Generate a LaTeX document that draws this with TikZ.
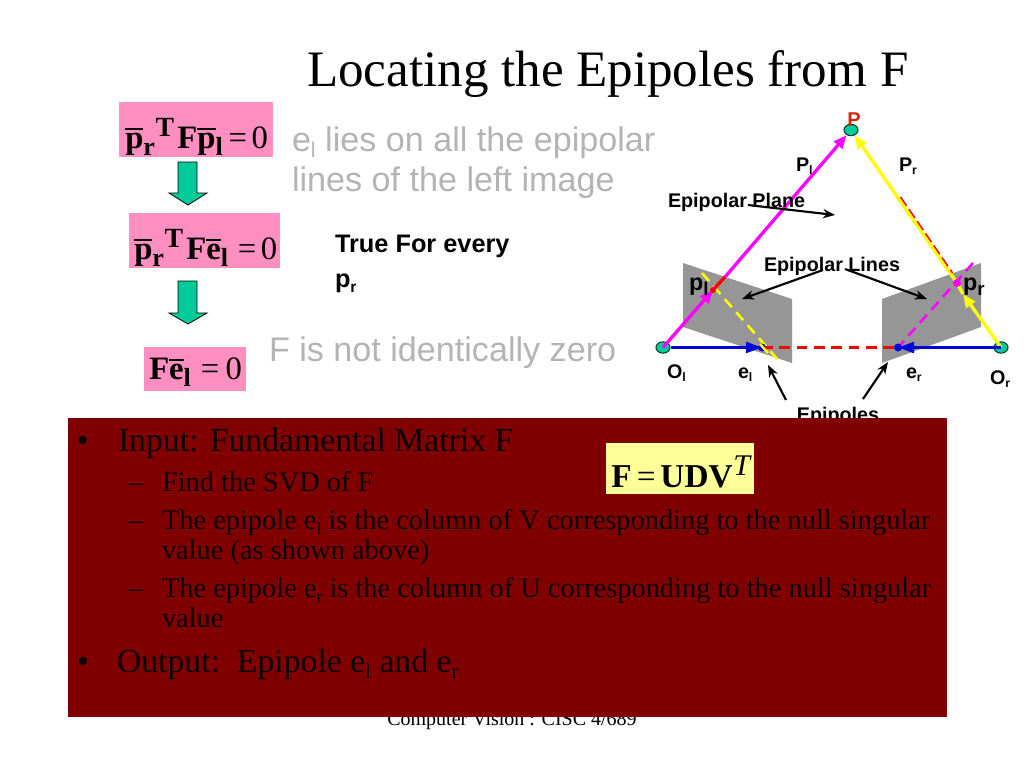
\documentclass[tikz,border=0pt]{standalone}
\usepackage{fontspec}
\setmainfont{Liberation Serif}
\newfontfamily\arialf{Liberation Sans}
\usetikzlibrary{arrows.meta,shapes.geometric}
\newcommand\subt[1]{\raisebox{-.2em}{\scalebox{.62}{#1}}}
\newcommand\subb[1]{\raisebox{-.22em}{\scalebox{.8}{#1}}}
\newcommand\ovl[1]{\vbox{\hrule height .045em \kern .09em \hbox{#1}}}
\newcommand\px[1]{\fontsize{#1}{#1}\selectfont}
\newcommand\supT{\raisebox{.36em}{\kern.02em\scalebox{.85}{T}\kern.1em}}
\definecolor{pinkbox}{HTML}{FF8FC0}
\definecolor{greenfill}{HTML}{00CC99}
\definecolor{darkred}{HTML}{800000}
\definecolor{paleyellow}{HTML}{FFFF99}
\definecolor{inkdark}{HTML}{0D0000}
\definecolor{greytext}{HTML}{B4B4B4}
\definecolor{planegrey}{HTML}{969696}
\definecolor{magline}{HTML}{FF00FF}
\definecolor{yelline}{HTML}{FFFF00}
\definecolor{plabel}{HTML}{D42A10}
\definecolor{blueline}{HTML}{0000DD}
\tikzset{
 txt/.style={inner sep=0pt,outer sep=0pt,anchor=base west,align=left},
 lab/.style={txt,font=\arialf\bfseries\px{14.8}},
 lgrey/.style={txt,font=\arialf\px{25.6},text=greytext},
 body/.style={txt,font=\px{25.3},text=inkdark},
 bodyb/.style={txt,font=\px{21.3},text=inkdark},
 pinkb/.style={fill=pinkbox,draw=none},
 formula/.style={inner sep=0pt,anchor=base west,font=\bfseries\px{24.5}},
 downarrow/.style={fill=greenfill,draw=black,line width=.6pt,line join=miter},
 dotnode/.style={ellipse,fill=greenfill,draw=black!70!greenfill,line width=.8pt,minimum width=10.5pt,minimum height=8.5pt,inner sep=0pt},
 blk/.style={draw=black,line width=1.6pt,-{Stealth[length=9pt,width=7pt]}},
 mag/.style={draw=magline,line width=2.5pt},
 yel/.style={draw=yelline,line width=2.5pt},
 blu/.style={draw=blueline,line width=2.3pt},
 dsh/.style={line width=1.9pt,dash pattern=on 8pt off 5pt},
 tipm/.style={-{Triangle[length=10pt,width=8pt,fill=magline]}},
 tipy/.style={-{Triangle[length=10pt,width=8pt,fill=yelline]}},
 tipb/.style={-{Triangle[length=12pt,width=8pt,fill=blueline]}},
}
\begin{document}
\begin{tikzpicture}[x=0.75pt,y=-0.75pt]
\path[use as bounding box,fill=white] (0,0) rectangle (1024,768);
% title
\node[txt,font=\px{38.3}] (title) at (307,86) {Locating the Epipoles from F};
% pink boxes
\fill[pinkb] (119,102) rectangle (273,157);
\fill[pinkb] (129,213) rectangle (280,268);
\fill[pinkb] (144,347) rectangle (246,391);
\node[formula] (f1) at (125,148) {\ovl{p}\subb{r}\supT F\ovl{p}\subb{l}\kern.18em\mdseries=\kern.14em 0};
\node[formula] (f2) at (134,259) {\ovl{p}\subb{r}\supT F\ovl{e}\subb{l}\kern.3em\mdseries=\kern.14em 0};
\node[formula] (f3) at (149,379) {F\ovl{e}\subb{l}\kern.3em\mdseries=\kern.2em 0};
% green arrows
\draw[downarrow] (178,162) -- (197,162) -- (197,193) -- (207,193) -- (188,205) -- (169,193) -- (178,193) -- cycle;
\draw[downarrow] (178,281) -- (197,281) -- (197,313) -- (207,313) -- (188,324) -- (169,313) -- (178,313) -- cycle;
% grey text
\node[lgrey] (g1) at (292,151) {e\subt{l} lies on all the epipolar};
\node[lgrey] (g2) at (292,191) {lines of the left image};
\node[lgrey] (g3) at (269,361) {F is not identically zero};
\node[txt,font=\arialf\bfseries\px{19}] (tf1) at (335,252) {True For every};
\node[txt,font=\arialf\bfseries\px{19}] (tf2) at (335,287) {p\subt{r}};
% footer (cut by the box)
\node[txt,font=\px{15},anchor=base] (foot) at (512,725) {Computer Vision : CISC 4/689};
% image planes
\fill[planegrey] (683,263) -- (792,299) -- (792,363) -- (683,327) -- cycle;
\fill[planegrey] (981,263) -- (882,299) -- (882,363) -- (981,327) -- cycle;
% diagram points
\coordinate (pl) at (713,290);
\coordinate (plend) at (725,277);
\coordinate (pr) at (957,283);
\coordinate (prm) at (963,294);
\coordinate (el) at (762,347.5);
\coordinate (er) at (898,347.5);
\coordinate (yA) at (702,273);
\coordinate (yB) at (778,360);
\coordinate (mA) at (973,263);
\coordinate (mB) at (894,352);
\coordinate (rA) at (899,197);
\coordinate (rB) at (951,273);
\node[dotnode] (P) at (851,130) {};
\node[dotnode] (Ol) at (663,347.5) {};
\node[dotnode] (Or) at (1001,347.5) {};
% epipolar lines & baseline
\draw[red,dsh] (el) -- (er);
\draw[yelline,dsh] (yA) -- (yB);
\draw[magline,dsh] (mA) -- (mB);
% rays
\draw[mag,tipm] (Ol.center) -- (pl);
\draw[red,line width=2.5pt] (pl) -- (plend);
\draw[mag,tipm] (plend) -- (P);
\draw[yel,tipy] (Or.center) -- (prm);
\draw[yel,tipy] (pr) -- (P);
\draw[draw=yelline,line width=2.5pt] (pr) -- (prm);
\draw[red,line width=1.1pt,dash pattern=on 8pt off 3pt] ([xshift=1.2pt]rA) -- ([xshift=1.2pt]rB);
\fill[red] (pl) circle (3);
\fill[magline] (pr) circle (4);
\fill[blueline] (el) circle (4);
\fill[blueline] (er) circle (4);
\draw[blu,tipb] (Ol.east) -- (el);
\draw[blu,tipb] (Or.center) -- (er);
\draw[yelline,line width=1.9pt] (760,344) -- (768,353);
% labels
\node[font=\arialf\bfseries\px{15},text=plabel,inner sep=0pt,anchor=base] (Plab) at (854,126) {P};
\node[lab] (Pll) at (796,171) {P\subt{l}};
\node[lab] (Prl) at (899,171) {P\subt{r}};
\node[lab] (EPl) at (668,207) {Epipolar Plane};
\node[lab] (ELl) at (764,271) {Epipolar Lines};
\node[txt,font=\arialf\bfseries\px{17.5}] (pll) at (689,290) {p\subb{l}};
\node[txt,font=\arialf\bfseries\px{17.5}] (prl) at (963,290) {p\subb{r}};
\node[lab] (Oll) at (667,378) {O\subt{l}};
\node[lab] (ell) at (738,378) {e\subt{l}};
\node[lab] (erl) at (906,378) {e\subt{r}};
\node[lab] (Orl) at (990,384) {O\subt{r}};
\node[lab,anchor=base] (Epi) at (838,421) {Epipoles};
% black arrows
\coordinate (a1s) at (748,205); \coordinate (a1e) at (835,215);
\coordinate (a2s) at (823,270); \coordinate (a2e) at (742,299);
\coordinate (a3s) at (845,269); \coordinate (a3e) at (927,299);
\coordinate (a4s) at (786,400); \coordinate (a4e) at (768,365);
\coordinate (a5s) at (863,399); \coordinate (a5e) at (888,362);
\draw[blk] (a1s) -- (a1e);
\draw[blk] (a2s) -- (a2e);
\draw[blk] (a3s) -- (a3e);
\draw[blk] (a4s) -- (a4e);
\draw[blk] (a5s) -- (a5e);
% dark panel
\fill[darkred] (68,418) rectangle (947,717);
\node[body] (bu1) at (77,451) {•};
\node[body] (t1) at (118,451) {Input: Fundamental Matrix F};
\node[bodyb] (da1) at (129,491) {–};
\node[bodyb] (t2) at (162,491) {Find the SVD of F};
\node[bodyb] (da2) at (129,529) {–};
\node[bodyb] (t3) at (162,529) {The epipole e\subt{l} is the column of V corresponding to the null singular};
\node[bodyb] (t4) at (162,559) {value (as shown above)};
\node[bodyb] (da3) at (129,597) {–};
\node[bodyb] (t5) at (162,597) {The epipole e\subt{r} is the column of U corresponding to the null singular};
\node[bodyb] (t6) at (162,627) {value};
\node[body] (bu2) at (77,672) {•};
\node[body] (t7) at (117,672) {Output:\ \ Epipole e\subt{l} and e\subt{r}};
% yellow box
\fill[paleyellow] (606,443) rectangle (754,494);
\node[formula,font=\bfseries\px{25}] (svd) at (611,487) {F\kern.16em\mdseries=\kern.14em\bfseries UDV\raisebox{.36em}{\mdseries\itshape\kern.02em\scalebox{.9}{T}}};
\end{tikzpicture}
\end{document}
